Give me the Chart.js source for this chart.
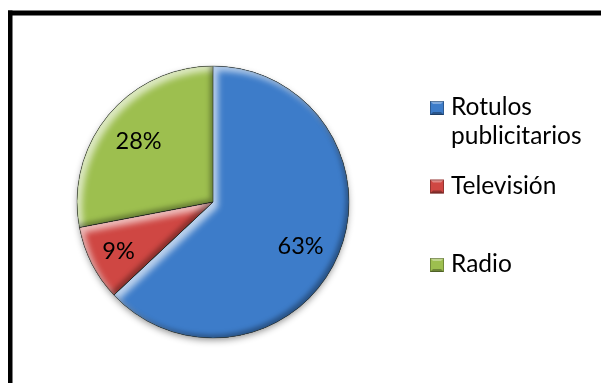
<!DOCTYPE html>
<html>
<head>
<meta charset="utf-8">
<script src="https://cdn.jsdelivr.net/npm/chart.js@4/dist/chart.umd.min.js"></script>
<style>
  html, body { margin: 0; padding: 0; background: #ffffff; }
  #wrap { position: relative; width: 601px; height: 383px; }
  canvas { display: block; }
</style>
</head>
<body>
<div id="wrap"><canvas id="pie" width="601" height="383"></canvas></div>
<script>
// Media mix shares (percent of total)
const categories = [['Rotulos', 'publicitarios'], 'Televisión', 'Radio'];
const shares = [63, 9, 28];
const sliceColors = ['#3d7cc9', '#cf4743', '#9dbf4f'];

const FONT = 'Lato, "Open Sans", sans-serif';

// White background with black frame, plus a soft drop shadow under the pie
const framePlugin = {
  id: 'frame',
  beforeDraw(chart) {
    const ctx = chart.ctx;
    ctx.save();
    ctx.fillStyle = '#ffffff';
    ctx.fillRect(0, 0, chart.width, chart.height);
    ctx.fillStyle = '#000000';
    ctx.fillRect(8, 10.5, chart.width, 5);      // top edge
    ctx.fillRect(8, 10.5, 4.5, chart.height);   // left edge
    ctx.restore();
  },
  beforeDatasetsDraw(chart) {
    const arc = chart.getDatasetMeta(0).data[0];
    if (!arc) return;
    const ctx = chart.ctx;
    ctx.save();
    ctx.shadowColor = 'rgba(0,0,0,0.45)';
    ctx.shadowBlur = 7;
    ctx.shadowOffsetY = 3;
    ctx.fillStyle = '#ffffff';
    ctx.beginPath();
    ctx.arc(arc.x, arc.y, arc.outerRadius - 1, 0, Math.PI * 2);
    ctx.fill();
    ctx.restore();
  }
};

// Bevel look: inner highlight on up-left facing edges, inner shade on down-right
function slicePath(ctx, a) {
  ctx.beginPath();
  ctx.moveTo(a.x, a.y);
  ctx.arc(a.x, a.y, a.outerRadius, a.startAngle, a.endAngle);
  ctx.closePath();
}
function innerShadow(ctx, a, color, dx, dy, blur) {
  ctx.save();
  slicePath(ctx, a);
  ctx.clip();
  ctx.beginPath();
  ctx.rect(-2000, -2000, 5000, 5000);
  ctx.moveTo(a.x, a.y);
  ctx.arc(a.x, a.y, a.outerRadius, a.startAngle, a.endAngle);
  ctx.closePath();
  ctx.shadowColor = color;
  ctx.shadowBlur = blur;
  ctx.shadowOffsetX = dx;
  ctx.shadowOffsetY = dy;
  ctx.fillStyle = '#000000';
  ctx.fill('evenodd');
  ctx.restore();
}
const bevelPlugin = {
  id: 'bevel',
  afterDatasetsDraw(chart) {
    const ctx = chart.ctx;
    chart.getDatasetMeta(0).data.forEach(a => {
      innerShadow(ctx, a, 'rgba(255,255,255,0.65)', 5, 5, 6);
      innerShadow(ctx, a, 'rgba(0,0,0,0.35)', -3, -3, 5);
      ctx.save();
      slicePath(ctx, a);
      ctx.lineWidth = 0.8;
      ctx.strokeStyle = 'rgba(40,50,40,0.45)';
      ctx.stroke();
      ctx.restore();
    });
  }
};

// Percentage labels inside each slice
const labelPlugin = {
  id: 'sliceLabels',
  afterDatasetsDraw(chart, args, opts) {
    const ctx = chart.ctx;
    const meta = chart.getDatasetMeta(0);
    const data = chart.data.datasets[0].data;
    const total = data.reduce((s, v) => s + v, 0);
    ctx.save();
    ctx.font = opts.font;
    ctx.fillStyle = '#000000';
    ctx.textAlign = 'center';
    ctx.textBaseline = 'middle';
    meta.data.forEach((a, i) => {
      const mid = (a.startAngle + a.endAngle) / 2;
      const r = a.outerRadius * opts.radial[i];
      const pct = Math.round(data[i] / total * 100) + '%';
      const [nx, ny] = opts.nudge[i];
      ctx.fillText(pct, a.x + Math.cos(mid) * r + nx, a.y + Math.sin(mid) * r + 1 + ny);
    });
    ctx.restore();
  }
};

// Vertical legend with beveled square markers
const legendPlugin = {
  id: 'sideLegend',
  afterDraw(chart, args, opts) {
    const ctx = chart.ctx;
    const labels = chart.data.labels;
    const colors = chart.data.datasets[0].backgroundColor;
    ctx.save();
    ctx.font = opts.font;
    ctx.textAlign = 'left';
    ctx.textBaseline = 'alphabetic';
    labels.forEach((lab, i) => {
      const top = opts.top + i * opts.step;
      const s = opts.box;
      const x = opts.x;
      // marker
      ctx.fillStyle = colors[i];
      ctx.fillRect(x, top, s, s);
      ctx.fillStyle = 'rgba(255,255,255,0.35)';
      ctx.beginPath();
      ctx.moveTo(x, top); ctx.lineTo(x + s, top); ctx.lineTo(x + s - 3, top + 3); ctx.lineTo(x + 3, top + 3);
      ctx.closePath(); ctx.fill();
      ctx.fillStyle = 'rgba(0,0,0,0.3)';
      ctx.beginPath();
      ctx.moveTo(x, top + s); ctx.lineTo(x + s, top + s); ctx.lineTo(x + s - 3, top + s - 3); ctx.lineTo(x + 3, top + s - 3);
      ctx.closePath(); ctx.fill();
      ctx.strokeStyle = 'rgba(0,0,0,0.35)';
      ctx.lineWidth = 0.8;
      ctx.strokeRect(x + 0.5, top + 0.5, s - 1, s - 1);
      // text
      ctx.fillStyle = '#000000';
      const lines = Array.isArray(lab) ? lab : [lab];
      lines.forEach((ln, j) => {
        ctx.fillText(ln, opts.textX, top + s + j * opts.lineHeight);
      });
    });
    ctx.restore();
  }
};

new Chart(document.getElementById('pie'), {
  type: 'pie',
  data: {
    labels: categories,
    datasets: [{
      data: shares,
      backgroundColor: sliceColors,
      borderWidth: 0
    }]
  },
  options: {
    responsive: false,
    animation: false,
    rotation: 0,
    layout: { padding: { left: 77, top: 66, right: 252, bottom: 45 } },
    plugins: {
      legend: { display: false },
      tooltip: { enabled: false },
      sliceLabels: {
        font: '23.5px ' + FONT,
        radial: [0.71, 0.78, 0.71],
        nudge: [[-1, 5], [0, 0], [0, 0]]
      },
      sideLegend: { font: '24.5px ' + FONT, x: 430, textX: 451, top: 101, step: 78.5, box: 14, lineHeight: 29 }
    }
  },
  plugins: [framePlugin, bevelPlugin, labelPlugin, legendPlugin]
});
</script>
</body>
</html>
